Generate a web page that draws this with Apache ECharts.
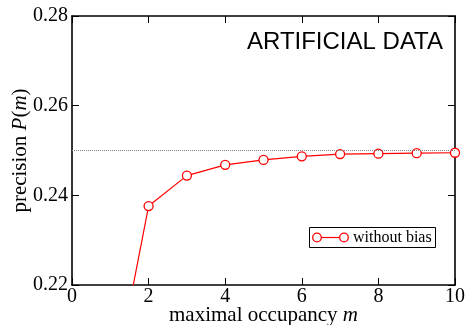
<!DOCTYPE html>
<html>
<head>
<meta charset="utf-8">
<script src="https://cdn.jsdelivr.net/npm/echarts@6/dist/echarts.min.js"></script>
<style>
html,body{margin:0;padding:0;background:#fff;}
#chart{width:467px;height:325px;}
</style>
</head>
<body>
<div id="chart"></div>
<script>
const mValues = [1, 2, 3, 4, 5, 6, 7, 8, 9, 10];
const precision = [0.1936, 0.2376, 0.2444, 0.2468, 0.2479, 0.2487, 0.2492, 0.2493, 0.2494, 0.2495];
const referenceLevel = 0.25;
const xTicks = [0, 2, 4, 6, 8, 10];
const yTicks = [0.22, 0.24, 0.26, 0.28];
const seriesName = 'without bias';
const annotation = 'ARTIFICIAL DATA';

const serif = '"Liberation Serif", "Times New Roman", serif';
const sans = '"Liberation Sans", Arial, sans-serif';
const chart = echarts.init(document.getElementById('chart'), null, {renderer: 'canvas'});

const axisCommon = {
  axisLine: {show: true, onZero: false, lineStyle: {color: '#000', width: 1.6}},
  axisTick: {show: true, inside: true, length: 7, lineStyle: {color: '#000', width: 1}},
  splitLine: {show: false},
  minorTick: {show: false}
};
const richLabel = {t: {fontFamily: serif, fontSize: 20, color: '#000'}};
const richName = {i: {fontStyle: 'italic', fontFamily: serif, fontSize: 21, color: '#000'},
                  r: {fontFamily: serif, fontSize: 21, color: '#000'}};

const option = {
  backgroundColor: '#fff',
  animation: false,
  textStyle: {fontFamily: serif},
  grid: {left: 72, right: 12, top: 16, bottom: 40, containLabel: false, outerBoundsMode: 'none'},
  xAxis: [
    Object.assign({}, axisCommon, {
      type: 'value', min: xTicks[0], max: xTicks[xTicks.length - 1], interval: 2,
      position: 'bottom',
      axisLabel: {color: '#000', fontFamily: serif, fontSize: 20, margin: 2,
        formatter: v => '{t|' + v + '}', rich: richLabel},
      name: '{r|maximal occupancy }{i|m}',
      nameLocation: 'middle', nameGap: 20, nameMoveOverlap: false,
      nameTextStyle: {color: '#000', fontFamily: serif, fontSize: 21, rich: richName}
    }),
    Object.assign({}, axisCommon, {
      type: 'value', min: xTicks[0], max: xTicks[xTicks.length - 1], interval: 2,
      position: 'top', axisLabel: {show: false}
    })
  ],
  yAxis: [
    Object.assign({}, axisCommon, {
      type: 'value', min: yTicks[0], max: yTicks[yTicks.length - 1], interval: 0.02,
      position: 'left',
      axisLabel: {color: '#000', fontFamily: serif, fontSize: 20, margin: 4,
        formatter: v => '{t|' + v.toFixed(2) + '}', rich: richLabel},
      name: '{r|precision }{i|P}{r|(}{i|m}{r|)}',
      nameLocation: 'middle', nameGap: 41, nameRotate: 90, nameMoveOverlap: false,
      nameTextStyle: {color: '#000', fontFamily: serif, fontSize: 21, rich: richName}
    }),
    Object.assign({}, axisCommon, {
      type: 'value', min: yTicks[0], max: yTicks[yTicks.length - 1], interval: 0.02,
      position: 'right', axisLabel: {show: false}
    })
  ],
  series: [
    {
      name: seriesName,
      type: 'line',
      xAxisIndex: 0, yAxisIndex: 0,
      data: mValues.map((m, i) => [m, precision[i]]),
      clip: true,
      symbol: 'circle',
      symbolSize: 9,
      showAllSymbol: true,
      itemStyle: {color: '#fff', borderColor: '#ff0000', borderWidth: 1.3},
      lineStyle: {color: '#ff0000', width: 1.2},
      z: 3,
      markLine: {
        silent: true,
        symbol: ['none', 'none'],
        label: {show: false},
        lineStyle: {color: '#888', type: [1, 1], width: 1},
        data: [{yAxis: referenceLevel}],
        animation: false
      }
    }
  ],
  graphic: [
    {
      type: 'text', right: 24, top: 30,
      style: {text: annotation, fontFamily: sans, fontSize: 24, fill: '#000'}
    },
    {
      type: 'group', left: 309, top: 227,
      children: [
        {type: 'rect', shape: {x: 0.5, y: 0.5, width: 126, height: 20},
          style: {fill: '#fff', stroke: '#000', lineWidth: 1}},
        {type: 'line', shape: {x1: 8, y1: 10.5, x2: 35, y2: 10.5},
          style: {stroke: '#ff0000', lineWidth: 1.2}},
        {type: 'circle', shape: {cx: 8, cy: 10.5, r: 4.3},
          style: {fill: '#fff', stroke: '#ff0000', lineWidth: 1.3}},
        {type: 'circle', shape: {cx: 35, cy: 10.5, r: 4.3},
          style: {fill: '#fff', stroke: '#ff0000', lineWidth: 1.3}},
        {type: 'text', x: 44, y: 11,
          style: {text: seriesName, fontFamily: serif, fontSize: 16, fill: '#000', verticalAlign: 'middle'}}
      ]
    }
  ]
};
chart.setOption(option);
</script>
</body>
</html>
